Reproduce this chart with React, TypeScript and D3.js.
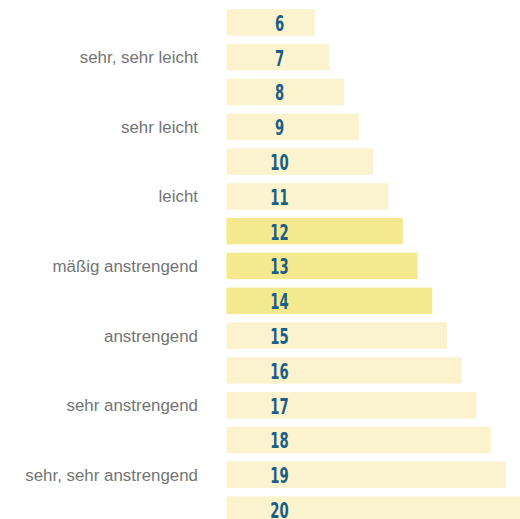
import { useEffect, useRef } from 'react'
import * as d3 from 'd3'

// Borg scale values (bar lengths follow the value)
const levels = [6, 7, 8, 9, 10, 11, 12, 13, 14, 15, 16, 17, 18, 19, 20]
const highlighted = [12, 13, 14]
const labelLevels = [7, 9, 11, 13, 15, 17, 19]
const labelTexts = [
  'sehr, sehr leicht',
  'sehr leicht',
  'leicht',
  'mäßig anstrengend',
  'anstrengend',
  'sehr anstrengend',
  'sehr, sehr anstrengend',
]

export default function App() {
  const svgRef = useRef<SVGSVGElement>(null)

  useEffect(() => {
    const svg = d3.select(svgRef.current)
    svg.selectAll('*').remove()

    const W = 520
    const H = 519
    svg.attr('width', W).attr('height', H)

    const barLeft = 226.5
    const x = d3.scaleLinear().domain([0, 20]).range([0, 294])
    const y = d3
      .scaleBand<number>()
      .domain(levels)
      .range([5, 527])
      .paddingInner(0.24)
      .paddingOuter(0.12)

    const g = svg.append('g')

    // Bars
    g.selectAll('rect.bar')
      .data(levels)
      .enter()
      .append('rect')
      .attr('class', 'bar')
      .attr('x', barLeft)
      .attr('y', (d) => y(d)!)
      .attr('width', (d) => x(d))
      .attr('height', y.bandwidth())
      .attr('fill', (d) => (highlighted.includes(d) ? '#f5e98f' : '#faf3cd'))

    // Value labels inside bars
    g.selectAll('text.num')
      .data(levels)
      .enter()
      .append('text')
      .attr('class', 'num')
      .attr('transform', (d) => `translate(279.5,${y(d)! + y.bandwidth() / 2 + 8.3}) scale(0.7,1)`)
      .attr('text-anchor', 'middle')
      .attr('fill', '#1b5e86')
      .style('font-family', '"Liberation Sans Narrow", "DejaVu Sans Condensed", sans-serif')
      .style('font-weight', 'bold')
      .style('font-size', '21px')
      .text((d) => d)

    // Descriptive labels on the left
    g.selectAll('text.desc')
      .data(labelLevels)
      .enter()
      .append('text')
      .attr('class', 'desc')
      .attr('x', 198)
      .attr('y', (d) => y(d)! + y.bandwidth() / 2 + 6)
      .attr('text-anchor', 'end')
      .attr('fill', '#747474')
      .style('font-family', '"Liberation Sans", Arial, sans-serif')
      .style('font-size', '16.9px')
      .text((_, i) => labelTexts[i])
  }, [])

  return (
    <div style={{ position: 'fixed', left: 0, top: 0, background: '#fff' }}>
      <svg ref={svgRef} style={{ display: 'block' }} />
    </div>
  )
}
